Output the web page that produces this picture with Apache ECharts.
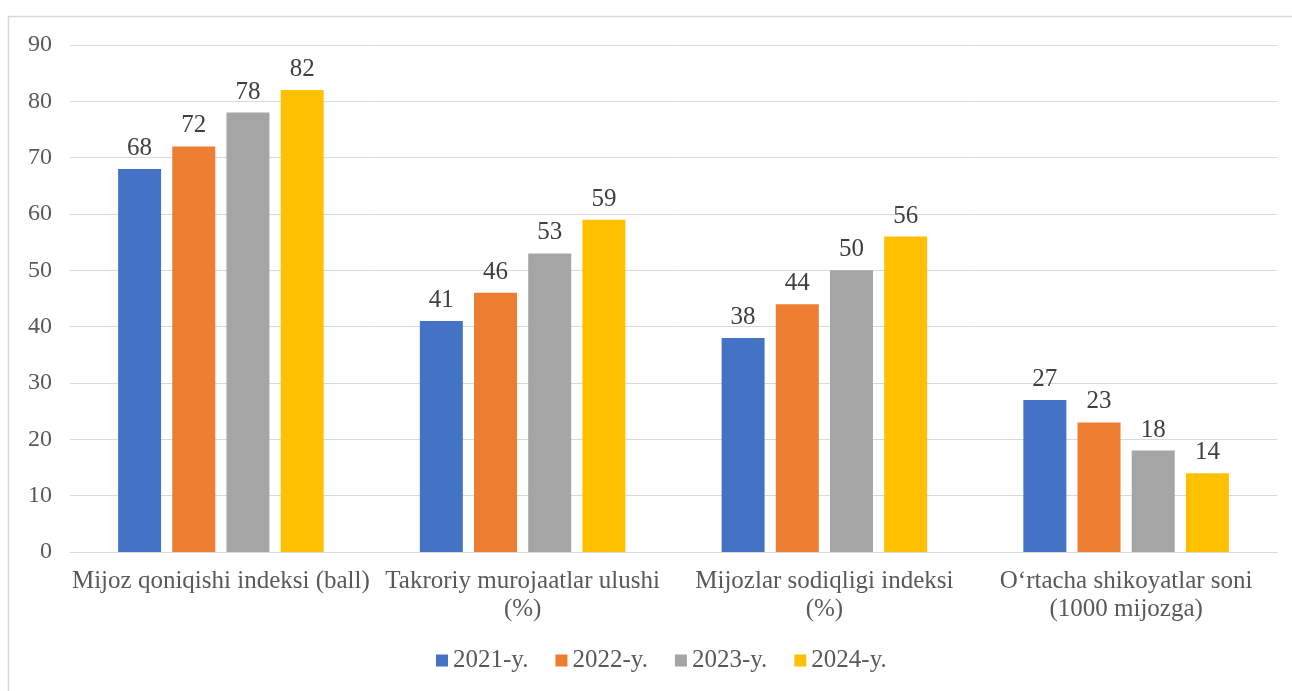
<!DOCTYPE html>
<html>
<head>
<meta charset="utf-8">
<script src="https://cdn.jsdelivr.net/npm/echarts@6/dist/echarts.min.js"></script>
<style>
  html, body { margin: 0; padding: 0; background: #fff; }
  #chart { width: 1292px; height: 691px; }
</style>
</head>
<body>
<div id="chart"></div>
<script>
const categories = [
  'Mijoz qoniqishi indeksi (ball)',
  'Takroriy murojaatlar ulushi\n(%)',
  'Mijozlar sodiqligi indeksi\n(%)',
  'O\u02bbrtacha shikoyatlar soni\n(1000 mijozga)'
];
const seriesNames = ['2021-y.', '2022-y.', '2023-y.', '2024-y.'];
const v2021 = [68, 41, 38, 27];
const v2022 = [72, 46, 44, 23];
const v2023 = [78, 53, 50, 18];
const v2024 = [82, 59, 56, 14];
const yTicks = { min: 0, max: 90, interval: 10 };

const colors = ['#4472C4', '#ED7D31', '#A5A5A5', '#FFC000'];
const FONT = '"Liberation Serif", "Times New Roman", serif';

const chart = echarts.init(document.getElementById('chart'), null, { renderer: 'canvas' });

const makeSeries = (name, data, color) => ({
  name,
  type: 'bar',
  data,
  barWidth: 43,
  barGap: '26%',
  itemStyle: { color },
  label: {
    show: true,
    position: 'top',
    distance: 8,
    color: '#404040',
    fontFamily: FONT,
    fontSize: 25,
  },
});

chart.setOption({
  animation: false,
  backgroundColor: '#fff',
  textStyle: { fontFamily: FONT },
  graphic: [
    {
      type: 'rect',
      shape: { x: 8.5, y: 16.5, width: 1320, height: 720 },
      style: { fill: 'none', stroke: '#d9d9d9', lineWidth: 1.5 },
      silent: true,
    },
  ],
  grid: { left: 70, right: 15, top: 45, bottom: 139, containLabel: false },
  legend: {
    bottom: 13,
    left: 431,
    itemWidth: 12,
    itemHeight: 12,
    itemGap: 27,
    icon: 'rect',
    textStyle: { color: '#595959', fontFamily: FONT, fontSize: 25 },
    data: seriesNames,
  },
  xAxis: {
    type: 'category',
    data: categories,
    axisLine: { lineStyle: { color: '#d9d9d9' } },
    axisTick: { show: false },
    axisLabel: {
      color: '#595959',
      fontFamily: FONT,
      fontSize: 25,
      lineHeight: 28,
      margin: 15,
      interval: 0,
    },
  },
  yAxis: {
    type: 'value',
    min: yTicks.min,
    max: yTicks.max,
    interval: yTicks.interval,
    axisLine: { show: false },
    axisTick: { show: false },
    axisLabel: { color: '#595959', fontFamily: FONT, fontSize: 24, margin: 18 },
    splitLine: { lineStyle: { color: '#d9d9d9', width: 1 } },
  },
  series: [
    makeSeries(seriesNames[0], v2021, colors[0]),
    makeSeries(seriesNames[1], v2022, colors[1]),
    makeSeries(seriesNames[2], v2023, colors[2]),
    makeSeries(seriesNames[3], v2024, colors[3]),
  ],
});
</script>
</body>
</html>
